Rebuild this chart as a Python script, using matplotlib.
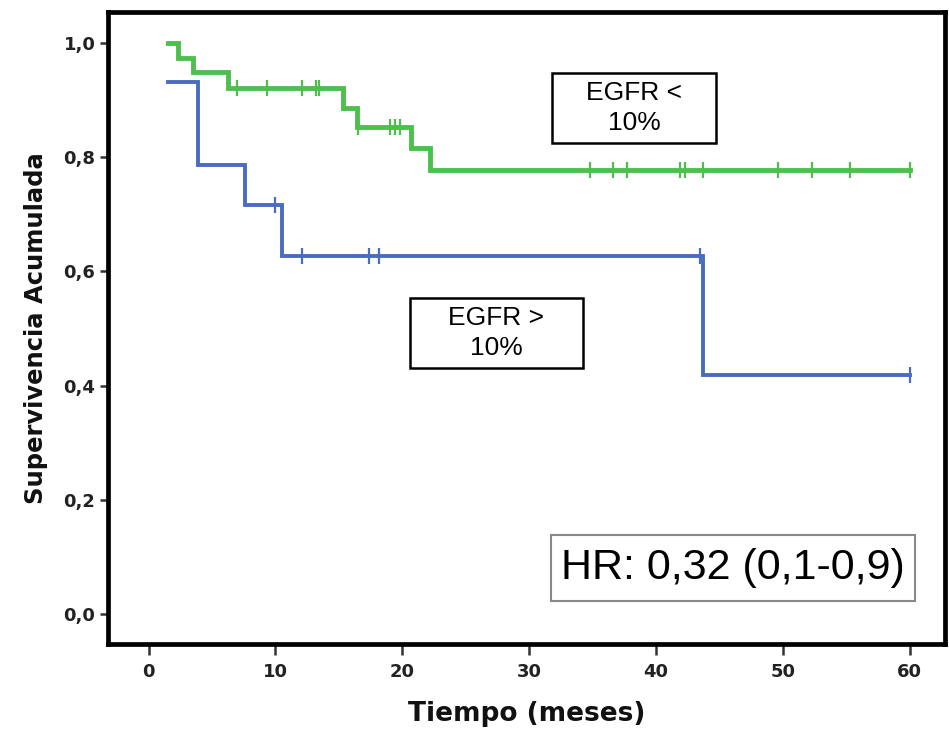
import numpy as np
import matplotlib
matplotlib.use("Agg")
import matplotlib.pyplot as plt
from matplotlib.patches import Rectangle

plt.rcParams['font.family'] = ['Liberation Sans', 'DejaVu Sans']

# Data
green_t = [1.5, 2.3, 3.5, 6.3, 15.3, 16.4, 20.7, 22.2, 60.0]
green_s = [1.0, 0.974, 0.949, 0.921, 0.886, 0.853, 0.816, 0.778, 0.778]
green_cens = [7.0, 9.3, 12.1, 13.2, 13.4, 16.5, 19.0, 19.4, 19.8, 34.8, 36.6,
              37.7, 41.9, 42.3, 43.7, 49.6, 52.3, 55.3, 60.0]

blue_t = [1.5, 3.9, 7.6, 10.5, 43.7, 60.0]
blue_s = [0.931, 0.786, 0.716, 0.626, 0.419, 0.419]
blue_cens = [10.0, 12.1, 17.4, 18.2, 43.5, 60.0]

xticks = [0, 10, 20, 30, 40, 50, 60]
yticks = [0.0, 0.2, 0.4, 0.6, 0.8, 1.0]
ytick_labels = ["0,0", "0,2", "0,4", "0,6", "0,8", "1,0"]

green_c = "#4cbf4c"
blue_c = "#4a6cc0"


def surv_at(ts, ss, t):
    idx = np.searchsorted(ts, t, side='right') - 1
    return np.asarray(ss)[idx]


fig = plt.figure(figsize=(9.49, 7.31), dpi=100)
ax = fig.add_axes([0.1138, 0.119, 0.882, 0.8646])

ax.plot(green_t, green_s, drawstyle='steps-post', color=green_c, lw=3.5,
        solid_joinstyle='miter')
ax.plot(green_cens, surv_at(green_t, green_s, green_cens), ls='none',
        marker='|', ms=11, mew=1.6, color=green_c)

ax.plot(blue_t, blue_s, drawstyle='steps-post', color=blue_c, lw=2.8,
        solid_joinstyle='miter')
ax.plot(blue_cens, surv_at(blue_t, blue_s, blue_cens), ls='none',
        marker='|', ms=11, mew=1.6, color=blue_c)

ax.set_xlim(-3.2, 62.8)
ax.set_ylim(-0.0525, 1.054)
ax.set_xticks(xticks)
ax.set_xticklabels([str(x) for x in xticks])
ax.set_yticks(yticks)
ax.set_yticklabels(ytick_labels)
for lab in ax.get_xticklabels() + ax.get_yticklabels():
    lab.set_fontfamily('DejaVu Sans')
    lab.set_fontweight('bold')
    lab.set_fontsize(13)
    lab.set_color('#222222')
ax.tick_params(axis='y', direction='out', length=6, width=1.8, color='#333333', pad=3)
ax.tick_params(axis='x', direction='out', length=8, width=1.8, color='#333333', pad=6)

for sp in ax.spines.values():
    sp.set_linewidth(3.4)
    sp.set_color('black')

ax.set_xlabel("Tiempo (meses)", fontsize=19, fontweight='bold',
              fontfamily='DejaVu Sans', labelpad=14, color='#111111')
ax.set_ylabel("Supervivencia Acumulada", fontsize=17.5, fontweight='bold',
              fontfamily='DejaVu Sans', labelpad=11, color='#111111')

# Annotation boxes
ax.add_patch(Rectangle((31.84, 0.824), 44.77 - 31.84, 0.947 - 0.824,
                       fc='white', ec='black', lw=1.8, zorder=4))
ax.text((31.84 + 44.77) / 2, 0.886, "EGFR <\n10%", ha='center', va='center',
        fontsize=19, linespacing=1.3, zorder=5)

ax.add_patch(Rectangle((20.58, 0.431), 34.23 - 20.58, 0.553 - 0.431,
                       fc='white', ec='black', lw=1.8, zorder=4))
ax.text((20.58 + 34.23) / 2, 0.492, "EGFR >\n10%", ha='center', va='center',
        fontsize=19, linespacing=1.3, zorder=5)

ax.add_patch(Rectangle((31.7, 0.023), 60.4 - 31.7, 0.138 - 0.023,
                       fc='white', ec='#888888', lw=1.5, zorder=4))
ax.text((31.7 + 60.4) / 2, 0.080, "HR: 0,32 (0,1-0,9)", ha='center', va='center',
        fontsize=31, zorder=5)

fig.savefig("out.png", dpi=100)
